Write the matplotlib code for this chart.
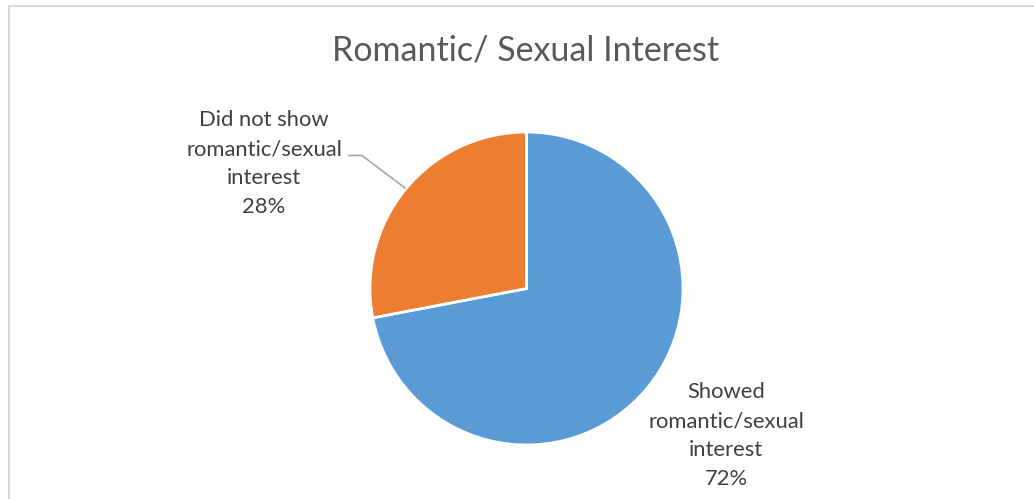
import matplotlib
matplotlib.use("Agg")
import matplotlib.pyplot as plt
from matplotlib.lines import Line2D

# Data
categories = ["Showed\nromantic/sexual\ninterest", "Did not show\nromantic/sexual\ninterest"]
values = [72, 28]
colors = ["#5B9BD5", "#ED7D31"]
title = "Romantic/ Sexual Interest"

W, H = 1034, 499
DPI = 100
plt.rcParams["font.family"] = ["Lato", "DejaVu Sans"]

fig = plt.figure(figsize=(W / DPI, H / DPI), dpi=DPI)
fig.patch.set_facecolor("white")


def fx(px):
    return px / W


def fy(py):
    return 1 - py / H


# Chart area border (runs off the right and bottom edges)
border = "#D9D9D9"
fig.add_artist(Line2D([fx(8.5), fx(W + 5)], [fy(5.5), fy(5.5)], color=border, lw=1.4))
fig.add_artist(Line2D([fx(8.5), fx(8.5)], [fy(5.5), fy(H + 5)], color=border, lw=1.4))

# Title
fig.text(fx(526), fy(50), title, ha="center", va="center",
         fontsize=24.5, color="#595959")

# Pie
cx, cy, r = 526.5, 288.5, 156.5
ax = fig.add_axes([fx(cx - r), fy(cy + r), 2 * r / W, 2 * r / H])
ax.pie(values, colors=colors, startangle=90, counterclock=False,
       wedgeprops=dict(edgecolor="white", linewidth=2))
ax.set_xlim(-1, 1)
ax.set_ylim(-1, 1)
ax.set_aspect("auto")
ax.axis("off")

# Data labels
total = sum(values)
label_pos = [(726, 392), (264, 120)]
line_step = 29
for name, v, (lx, ly) in zip(categories, values, label_pos):
    lines = name.split("\n") + [f"{round(100 * v / total)}%"]
    for i, s in enumerate(lines):
        fig.text(fx(lx), fy(ly + i * line_step), s, ha="center", va="center",
                 fontsize=15.8, color="#404040")

# Leader line for the smaller slice
fig.add_artist(Line2D([fx(349), fx(362), fx(405)], [fy(155.5), fy(155.5), fy(188)],
                      color="#A6A6A6", lw=1.2))

fig.savefig("out.png", dpi=DPI, facecolor="white")
